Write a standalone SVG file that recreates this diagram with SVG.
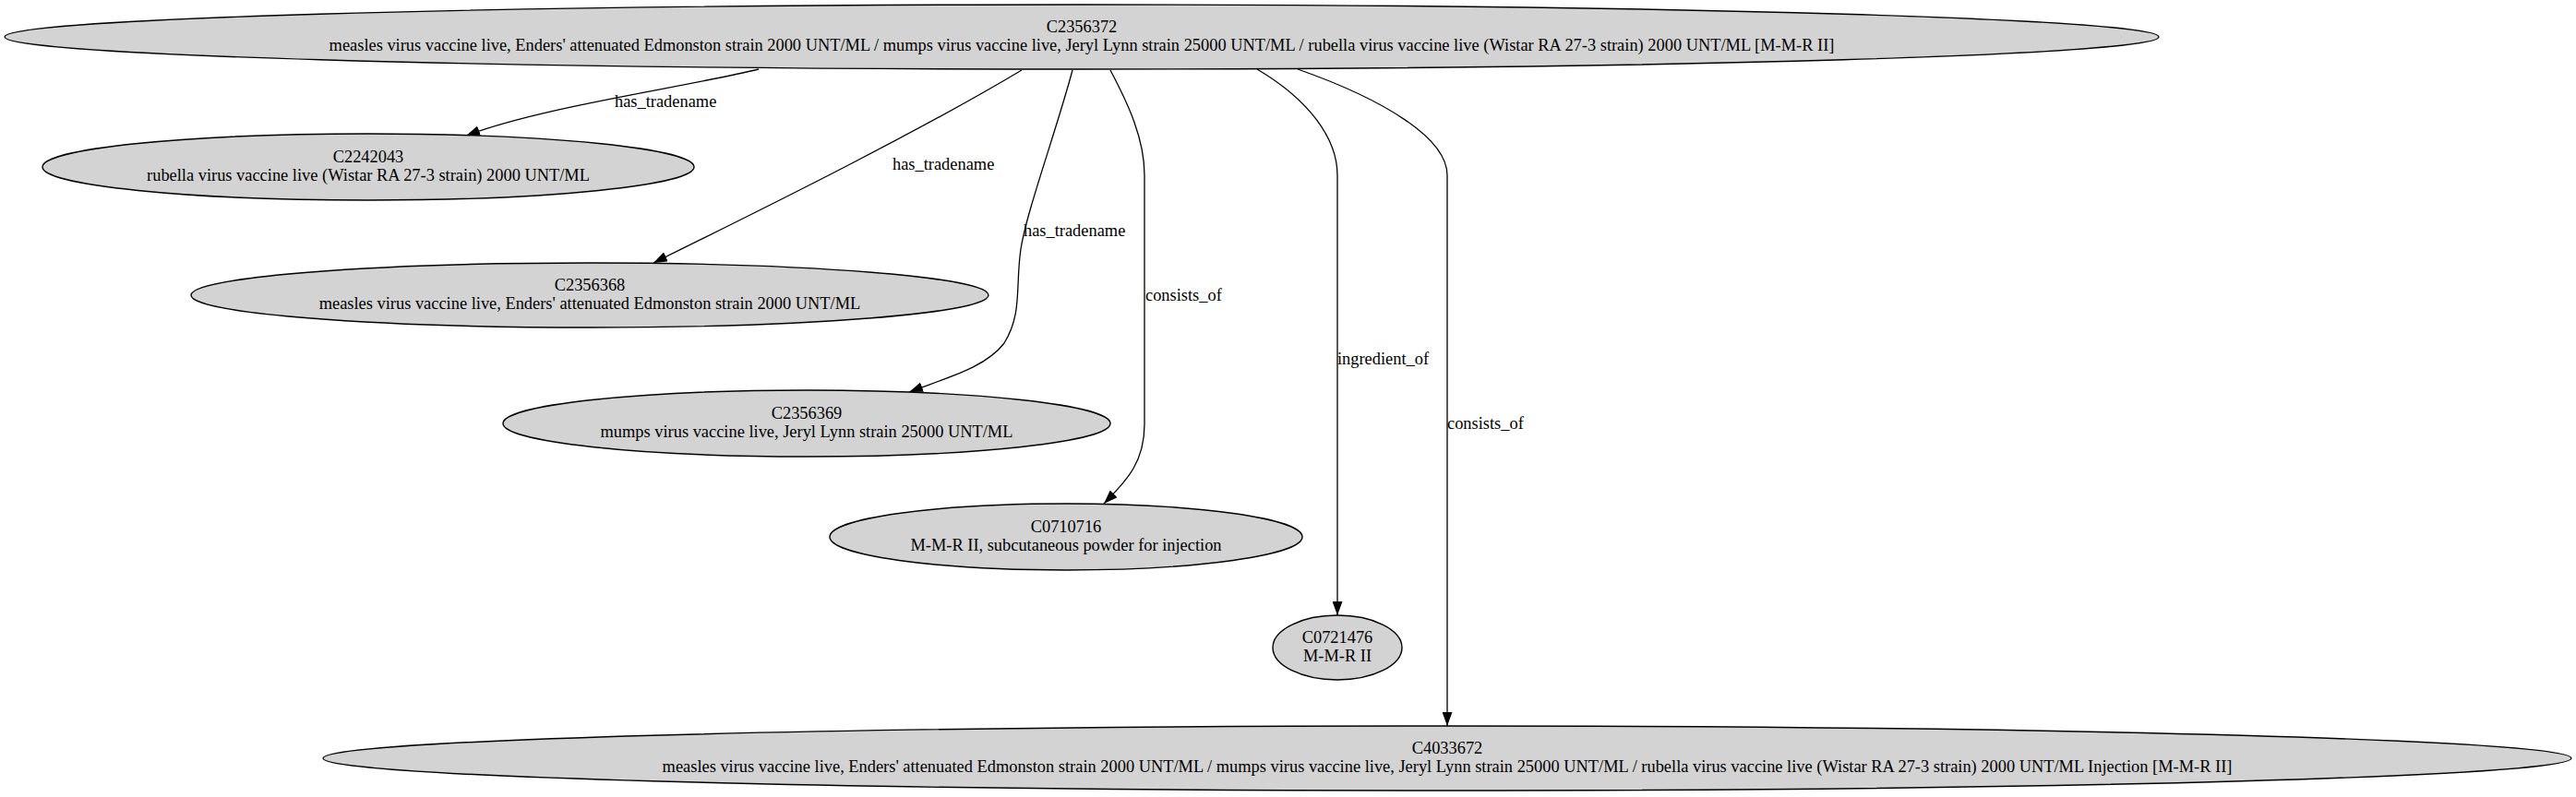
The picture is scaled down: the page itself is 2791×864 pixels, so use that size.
<svg xmlns="http://www.w3.org/2000/svg" width="2791" height="864" viewBox="0 0 2791 864">
<defs>
<style>
.n ellipse{fill:#d3d3d3;stroke:#000;stroke-width:1.4}
text{font-family:"Liberation Serif","Times New Roman",serif;font-size:18.4px;fill:#000}
.n text{text-anchor:middle}
.e path{fill:none;stroke:#000;stroke-width:1.3}
</style>
<marker id="ah" viewBox="0 0 15 11" markerWidth="15" markerHeight="11" markerUnits="userSpaceOnUse" refX="15" refY="5.5" orient="auto">
<path d="M0,0 L15,5.5 L0,11 z" fill="#000"/>
</marker>
</defs>
<rect width="2791" height="864" fill="#fff"/>
<g id="edges" class="e">
<path d="M822,75 C740,95 590,115 505,147" marker-end="url(#ah)"/>
<text x="666" y="116">has_tradename</text>
<path d="M1107,76 C1000,140 850,215 708,285" marker-end="url(#ah)"/>
<text x="967" y="184">has_tradename</text>
<path d="M1162,76 C1145,140 1112,230 1106,270 C1100,310 1108,340 1088,372 C1068,398 1030,408 985,425" marker-end="url(#ah)"/>
<text x="1109" y="256">has_tradename</text>
<path d="M1203,76 C1222,112 1240,150 1240,190 L1240,460 C1240,500 1222,520 1196,546" marker-end="url(#ah)"/>
<text x="1241" y="326">consists_of</text>
<path d="M1362,75 C1418,108 1449,150 1449,190 L1449,667" marker-end="url(#ah)"/>
<text x="1449" y="395">ingredient_of</text>
<path d="M1406,75 C1500,108 1568,150 1568,190 L1568,787" marker-end="url(#ah)"/>
<text x="1568" y="465">consists_of</text>
</g>
<g id="C2356372" class="n">
<ellipse cx="1172" cy="40" rx="1167" ry="35"/>
<text x="1172" y="35">C2356372</text>
<text x="1172" y="55">measles virus vaccine live, Enders' attenuated Edmonston strain 2000 UNT/ML / mumps virus vaccine live, Jeryl Lynn strain 25000 UNT/ML / rubella virus vaccine live (Wistar RA 27-3 strain) 2000 UNT/ML [M-M-R II]</text>
</g>
<g id="C2242043" class="n">
<ellipse cx="399" cy="181" rx="353" ry="36"/>
<text x="399" y="176">C2242043</text>
<text x="399" y="196">rubella virus vaccine live (Wistar RA 27-3 strain) 2000 UNT/ML</text>
</g>
<g id="C2356368" class="n">
<ellipse cx="639" cy="320" rx="432" ry="35"/>
<text x="639" y="315">C2356368</text>
<text x="639" y="335">measles virus vaccine live, Enders' attenuated Edmonston strain 2000 UNT/ML</text>
</g>
<g id="C2356369" class="n">
<ellipse cx="874" cy="459" rx="329" ry="36"/>
<text x="874" y="454">C2356369</text>
<text x="874" y="474">mumps virus vaccine live, Jeryl Lynn strain 25000 UNT/ML</text>
</g>
<g id="C0710716" class="n">
<ellipse cx="1155" cy="582" rx="256" ry="36"/>
<text x="1155" y="577">C0710716</text>
<text x="1155" y="597">M-M-R II, subcutaneous powder for injection</text>
</g>
<g id="C0721476" class="n">
<ellipse cx="1449" cy="702" rx="70" ry="35"/>
<text x="1449" y="697">C0721476</text>
<text x="1449" y="717">M-M-R II</text>
</g>
<g id="C4033672" class="n">
<ellipse cx="1568" cy="822" rx="1218" ry="35"/>
<text x="1568" y="817">C4033672</text>
<text x="1568" y="837">measles virus vaccine live, Enders' attenuated Edmonston strain 2000 UNT/ML / mumps virus vaccine live, Jeryl Lynn strain 25000 UNT/ML / rubella virus vaccine live (Wistar RA 27-3 strain) 2000 UNT/ML Injection [M-M-R II]</text>
</g>
</svg>
